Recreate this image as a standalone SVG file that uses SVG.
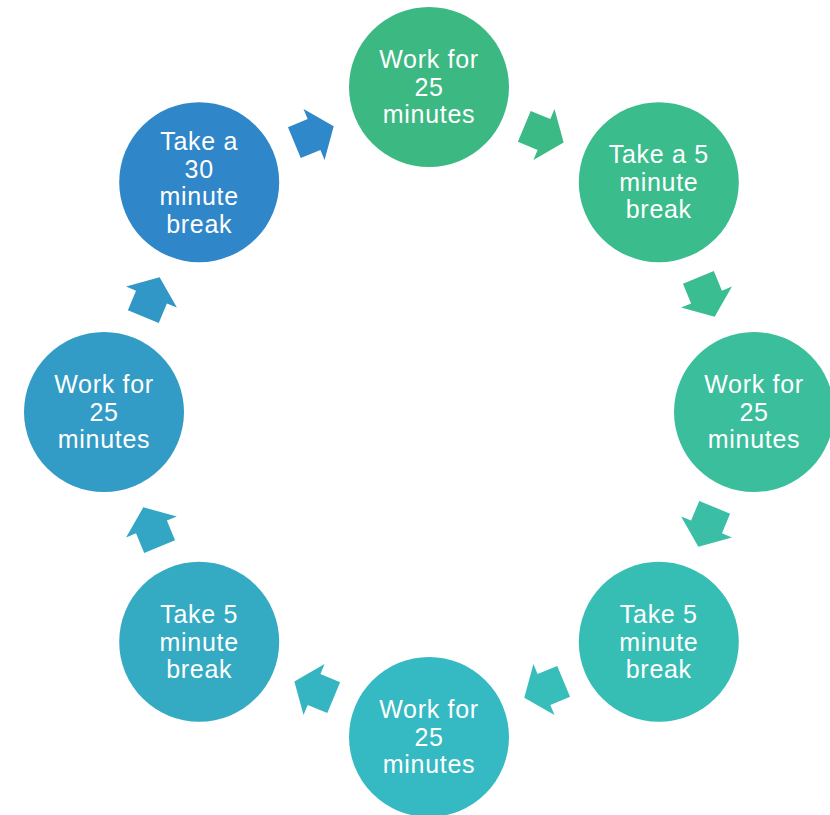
<svg xmlns="http://www.w3.org/2000/svg" width="830" height="815" viewBox="0 0 830 815">
<defs>
<style>
.lbl{font-family:"Liberation Sans",Arial,sans-serif;font-size:25px;letter-spacing:0.7px;fill:#ffffff;text-anchor:middle}
</style>
<polygon id="arr" points="-21.3,-16.7 0,-16.7 0,-27.5 21.3,0 0,27.5 0,16.7 -21.3,16.7"/>
</defs>
<rect width="830" height="815" fill="#ffffff"/>
<g id="connectors">
<use href="#arr" fill="#3cba86" transform="translate(543.96,134.47) rotate(22.5)"/>
<use href="#arr" fill="#3bbd92" transform="translate(706.53,297.04) rotate(67.5)"/>
<use href="#arr" fill="#3abea6" transform="translate(706.53,526.96) rotate(112.5)"/>
<use href="#arr" fill="#37bdba" transform="translate(543.96,689.53) rotate(157.5)"/>
<use href="#arr" fill="#35b4c2" transform="translate(314.04,689.53) rotate(202.5)"/>
<use href="#arr" fill="#33a6c5" transform="translate(151.47,526.96) rotate(247.5)"/>
<use href="#arr" fill="#3197c6" transform="translate(151.47,297.04) rotate(292.5)"/>
<use href="#arr" fill="#2f88c9" transform="translate(314.04,134.47) rotate(337.5)"/>
</g>
<g id="n1">
<circle cx="429" cy="87" r="80" fill="#3cb882"/>
<text class="lbl" x="429" y="68">Work for</text>
<text class="lbl" x="429" y="96">25</text>
<text class="lbl" x="429" y="123">minutes</text>
</g>
<g id="n2">
<circle cx="658.8" cy="182.2" r="80" fill="#3bbc8c"/>
<text class="lbl" x="658.8" y="163">Take a 5</text>
<text class="lbl" x="658.8" y="191">minute</text>
<text class="lbl" x="658.8" y="218">break</text>
</g>
<g id="n3">
<circle cx="754" cy="412" r="80" fill="#3bbe9c"/>
<text class="lbl" x="754" y="393">Work for</text>
<text class="lbl" x="754" y="421">25</text>
<text class="lbl" x="754" y="448">minutes</text>
</g>
<g id="n4">
<circle cx="658.8" cy="641.8" r="80" fill="#37beb4"/>
<text class="lbl" x="658.8" y="623">Take 5</text>
<text class="lbl" x="658.8" y="651">minute</text>
<text class="lbl" x="658.8" y="678">break</text>
</g>
<g id="n5">
<circle cx="429" cy="737" r="80" fill="#35b9c2"/>
<text class="lbl" x="429" y="718">Work for</text>
<text class="lbl" x="429" y="746">25</text>
<text class="lbl" x="429" y="773">minutes</text>
</g>
<g id="n6">
<circle cx="199.2" cy="641.8" r="80" fill="#34aac3"/>
<text class="lbl" x="199.2" y="623">Take 5</text>
<text class="lbl" x="199.2" y="651">minute</text>
<text class="lbl" x="199.2" y="678">break</text>
</g>
<g id="n7">
<circle cx="104" cy="412" r="80" fill="#329bc6"/>
<text class="lbl" x="104" y="393">Work for</text>
<text class="lbl" x="104" y="421">25</text>
<text class="lbl" x="104" y="448">minutes</text>
</g>
<g id="n8">
<circle cx="199.2" cy="182.2" r="80" fill="#2f86c8"/>
<text class="lbl" x="199.2" y="150">Take a</text>
<text class="lbl" x="199.2" y="178">30</text>
<text class="lbl" x="199.2" y="205">minute</text>
<text class="lbl" x="199.2" y="233">break</text>
</g>
</svg>
